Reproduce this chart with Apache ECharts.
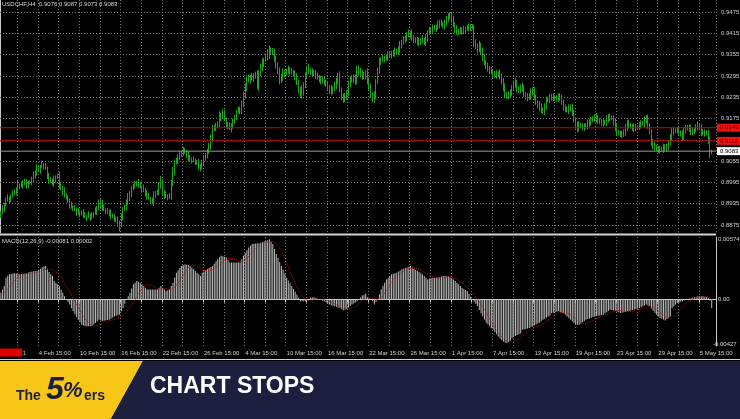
<!DOCTYPE html>
<html><head><meta charset="utf-8">
<script src="https://cdn.jsdelivr.net/npm/echarts@6/dist/echarts.min.js"></script>
<style>html,body{margin:0;padding:0;background:#000;}#c{width:740px;height:419px;}</style>
</head><body><div id="c"></div>
<script>
// ---- data (prices in pips, 0.0001) ----
const firstOpen = 8903;
const closes = [
8909,8921,8934,8945,8950,8947,8958,8963,8968,8975,
8988,8984,8990,8996,8993,8987,8995,8993,9003,9010,
9022,9036,9031,9040,9044,9041,9036,9012,9005,8998,
8993,9002,9009,9016,8988,8979,8968,8960,8951,8944,
8931,8927,8923,8918,8912,8909,8906,8910,8903,8900,
8898,8902,8897,8903,8908,8915,8923,8931,8940,8923,
8918,8915,8912,8907,8903,8898,8893,8889,8883,8875,
8896,8917,8926,8937,8951,8965,8977,8988,8990,8993,
8988,8982,8979,8974,8965,8954,8950,8946,8940,8960,
8963,8968,8984,8995,8968,8960,8954,8957,8954,8990,
9025,9050,9058,9066,9072,9080,9086,9079,9072,9066,
9061,9058,9055,9052,9050,9043,9036,9050,9062,9072,
9081,9095,9120,9143,9150,9155,9157,9179,9183,9190,
9172,9157,9152,9148,9156,9165,9178,9193,9197,9200,
9215,9236,9262,9289,9285,9292,9288,9295,9297,9264,
9303,9318,9334,9340,9347,9354,9370,9366,9360,9343,
9326,9305,9283,9295,9306,9302,9309,9312,9308,9305,
9303,9290,9275,9258,9241,9255,9269,9295,9317,9310,
9306,9306,9300,9297,9292,9283,9286,9281,9278,9270,
9261,9256,9250,9260,9269,9282,9292,9255,9240,9227,
9237,9247,9275,9282,9289,9285,9278,9317,9308,9300,
9292,9299,9306,9283,9262,9243,9227,9241,9278,9312,
9334,9340,9345,9346,9348,9352,9356,9360,9358,9361,
9362,9372,9382,9389,9396,9403,9410,9413,9416,9402,
9397,9393,9390,9392,9394,9396,9390,9403,9416,9421,
9426,9430,9431,9433,9439,9444,9441,9438,9445,9452,
9462,9468,9453,9438,9428,9419,9421,9419,9424,9426,
9428,9430,9431,9432,9433,9388,9378,9368,9382,9365,
9348,9334,9320,9315,9310,9306,9301,9297,9300,9303,
9293,9283,9262,9241,9238,9241,9251,9261,9270,9278,
9255,9258,9261,9264,9241,9237,9233,9240,9248,9255,
9237,9219,9212,9207,9200,9193,9210,9227,9230,9233,
9236,9234,9231,9233,9235,9236,9220,9205,9202,9199,
9203,9207,9193,9170,9155,9148,9157,9154,9150,9151,
9156,9160,9165,9170,9175,9179,9175,9171,9166,9162,
9163,9165,9172,9179,9177,9176,9163,9151,9137,9133,
9131,9129,9138,9148,9162,9157,9152,9148,9150,9149,
9151,9157,9160,9162,9169,9176,9156,9137,9106,9100,
9095,9090,9086,9088,9090,9092,9094,9092,9108,9123,
9137,9140,9141,9143,9136,9130,9123,9143,9147,9151,
9145,9140,9137,9145,9151,9157,9147,9137,9135,9134,
9136,9112,9076,9083];
// wick lengths in units of 0.0002 (2 pips)
const wickUnit = 2;
const upWick = [
3,5,2,4,6,3,2,5,4,3,7,2,4,3,5,6,2,3,4,8,
3,5,4,2,6,3,4,2,5,3,4,6,3,2,5,4,3,7,2,4,
3,5,2,4,3,6,2,3,5,4,2,6,3,4,2,5,3,8,4,3,
5,2,4,3,6,2,4,3,5,2,6,4,3,5,7,3,4,2,5,3,
6,4,2,5,3,4,6,2,3,5,4,3,6,9,4,3,5,2,4,6,
7,5,3,4,6,2,5,3,4,6,3,2,5,4,3,6,2,4,5,3,
4,6,5,7,3,4,5,8,4,6,5,3,4,6,3,5,4,3,6,4,
5,7,6,4,5,3,6,4,5,7,4,6,5,3,6,8,5,3,4,6,
5,4,7,3,5,4,3,6,4,5,3,4,6,5,3,7,4,5,3,6,
4,5,3,6,4,3,5,4,6,3,5,4,7,3,5,4,6,8,4,3,
5,4,3,6,4,5,7,3,4,5,6,4,3,5,4,6,3,5,4,3,
6,4,5,3,4,6,5,3,4,7,5,3,6,4,5,3,4,6,3,5,
4,3,6,5,4,7,3,5,4,6,3,5,4,3,6,4,5,3,4,6,
5,3,4,6,4,5,3,6,4,5,3,4,6,5,4,3,5,4,6,3,
5,4,3,6,4,5,3,4,6,3,5,4,3,6,4,5,3,4,6,5,
3,4,5,6,3,4,5,3,6,4,5,3,4,6,5,3,4,5,3,6,
4,5,3,4,6,5,3,4,5,3,6,4,5,3,4,6,5,3,4,5,
3,6,4,5,3,4,6,5,3,4,5,3,6,4,5,3,4,6,5,3,
4,5,3,6,4,5,3,4,6,5,3,4,5,3,6,4,5,3,4,6,
5,3,4,5,3,6,4,5,3,4,6,5,3,4,5,3,6,4,5,3,
4,6,5,3,4,5,3,6,4,5,3,4,6,2];
const dnWick = [
4,2,5,3,2,6,4,3,2,5,3,4,2,6,3,5,4,2,3,5,
2,4,3,6,2,5,3,4,7,2,3,5,4,2,6,3,5,4,2,3,
5,3,4,2,6,3,5,2,4,3,6,2,5,3,4,2,6,3,5,4,
2,5,3,4,6,2,5,3,7,9,3,4,2,5,3,4,6,2,5,3,
4,2,6,3,5,4,2,5,3,6,4,2,5,3,4,6,2,5,3,4,
3,5,2,6,4,3,5,2,4,6,3,5,2,4,3,6,5,2,4,3,
5,3,4,6,2,5,4,3,6,4,2,5,4,3,6,5,3,4,2,5,
6,4,3,5,4,6,3,5,4,3,6,4,5,7,3,4,6,5,3,4,
5,3,6,4,7,5,3,4,6,3,5,4,3,6,4,5,8,4,3,5,
4,6,3,5,4,3,6,4,5,3,4,6,5,3,4,6,5,3,7,4,
3,5,4,6,3,5,4,3,6,5,4,3,7,6,4,5,3,4,6,3,
5,4,3,6,4,5,3,6,4,5,3,4,6,5,3,4,5,3,6,4,
5,3,4,6,5,3,4,5,6,3,4,5,3,6,4,5,3,4,6,5,
3,4,5,3,6,4,5,3,4,6,5,3,4,5,3,6,4,5,3,4,
6,5,3,4,5,3,6,4,5,3,4,6,5,3,4,5,3,6,4,5,
3,4,6,5,3,4,5,3,6,4,5,3,4,6,5,3,4,5,3,6,
4,5,3,4,6,5,3,4,5,3,6,4,5,3,4,6,5,3,4,5,
3,6,4,5,3,4,6,5,3,4,5,3,6,4,5,3,4,6,5,3,
4,5,3,6,4,5,3,4,6,5,3,4,5,3,6,4,5,3,4,6,
5,3,4,5,3,6,4,5,3,4,6,5,3,4,5,3,6,4,5,3,
4,6,5,3,4,5,3,6,4,5,3,4,6,1];
// MACD main and signal, units of 0.00001
const macd = [
64,95,128,207,225,240,243,246,249,246,
243,240,241,243,245,250,256,262,265,268,
270,271,282,293,303,312,319,287,262,240,
223,175,160,145,128,95,64,32,0,-24,
-48,-80,-112,-140,-166,-191,-215,-239,-245,-250,
-255,-253,-252,-250,-236,-223,-207,-191,-198,-205,
-200,-197,-194,-191,-181,-170,-160,-154,-149,-144,
-112,-80,-40,0,32,64,104,144,160,175,
168,160,144,128,112,96,96,96,96,96,
96,96,112,128,112,96,80,88,96,128,
160,208,255,276,298,319,327,335,330,325,
319,303,287,271,255,239,223,255,266,276,
287,298,309,319,340,362,383,400,415,410,
405,399,375,351,351,351,351,351,351,351,
383,415,441,468,494,510,526,528,530,531,
533,538,544,549,555,562,568,547,526,478,
431,394,357,319,282,244,207,181,154,128,
101,75,48,16,-16,-16,-16,-16,-5,5,
16,19,22,15,8,0,-5,-11,-16,-27,
-37,-48,-53,-59,-64,-69,-75,-80,-91,-102,
-96,-90,-76,-62,-48,-37,-27,-16,2,20,
38,46,54,22,9,-3,-16,-48,-24,0,
48,96,128,159,191,207,224,240,245,250,
255,266,276,287,292,298,303,311,319,303,
292,282,271,261,250,240,224,207,191,196,
202,207,207,207,207,212,218,223,223,223,
223,212,202,191,175,160,144,128,112,101,
91,80,53,27,0,-21,-43,-64,-100,-130,
-160,-190,-220,-237,-254,-270,-287,-308,-328,-349,
-370,-385,-400,-408,-415,-403,-390,-370,-351,-343,
-336,-328,-320,-287,-283,-278,-274,-270,-262,-255,
-246,-237,-228,-220,-205,-191,-181,-171,-160,-150,
-128,-124,-120,-116,-112,-118,-124,-130,-145,-161,
-176,-191,-207,-223,-239,-239,-239,-227,-215,-203,
-191,-185,-179,-172,-166,-160,-157,-154,-150,-147,
-144,-132,-120,-108,-96,-99,-102,-105,-113,-120,
-128,-124,-120,-116,-112,-108,-104,-100,-95,-90,
-85,-80,-72,-64,-56,-48,-56,-64,-85,-107,
-128,-144,-160,-175,-183,-190,-198,-185,-173,-160,
-80,-64,-48,-32,-27,-21,-16,-9,-2,6,
9,13,16,21,27,32,32,32,32,27,
21,16,-10,-81];
const signal = [
40,50,65,85,105,125,145,165,185,205,
222,235,242,244,245,245,246,248,251,254,
257,260,264,269,275,281,288,290,290,288,
284,274,262,248,230,208,183,155,126,97,
68,40,11,-18,-48,-76,-103,-130,-157,-180,
-201,-219,-233,-243,-249,-250,-247,-241,-233,-225,
-218,-210,-204,-199,-196,-193,-189,-184,-178,-172,
-164,-152,-137,-119,-98,-75,-51,-26,0,27,
54,80,103,122,136,145,147,141,131,119,
110,104,101,101,103,103,101,99,98,100,
107,119,137,158,182,207,232,258,282,303,
318,324,324,320,313,304,293,284,277,272,
270,271,276,284,294,306,318,331,346,361,
373,382,388,391,389,385,380,374,367,362,
363,369,379,392,408,426,445,465,484,502,
515,523,529,534,538,542,546,547,546,541,
530,513,491,464,432,396,357,316,274,232,
191,153,118,87,59,34,13,-2,-9,-9,
-6,-3,0,3,4,5,4,2,-1,-6,
-12,-18,-25,-33,-41,-50,-58,-66,-74,-83,
-88,-90,-88,-84,-78,-71,-62,-51,-38,-23,
-9,4,14,18,18,16,13,8,3,0,
8,22,40,62,87,113,140,165,188,208,
225,240,253,264,274,282,289,294,298,299,
298,295,290,284,277,269,260,250,240,231,
223,216,211,208,206,205,206,208,211,213,
215,215,213,209,202,193,182,170,157,143,
128,113,96,79,61,42,22,2,-20,-44,
-70,-98,-127,-156,-185,-213,-240,-266,-291,-315,
-336,-355,-372,-386,-396,-402,-404,-403,-399,-392,
-384,-374,-363,-350,-336,-322,-308,-296,-285,-276,
-267,-259,-251,-244,-236,-227,-217,-206,-195,-183,
-170,-158,-147,-138,-131,-126,-123,-122,-124,-128,
-135,-144,-155,-168,-182,-196,-209,-219,-225,-227,
-225,-221,-215,-208,-199,-190,-181,-172,-164,-158,
-153,-147,-141,-134,-126,-118,-111,-106,-103,-103,
-105,-108,-111,-114,-115,-115,-113,-110,-106,-102,
-98,-93,-88,-82,-76,-70,-66,-65,-67,-72,
-81,-93,-106,-121,-137,-152,-166,-176,-181,-182,
-172,-159,-142,-123,-104,-86,-68,-51,-36,-22,
-11,-3,4,10,15,20,24,27,29,29,
28,26,18,2];
const timeLabels = ['4 Feb 15:00','10 Feb 15:00','16 Feb 15:00','22 Feb 15:00','26 Feb 15:00',
  '4 Mar 15:00','10 Mar 15:00','16 Mar 15:00','22 Mar 15:00','26 Mar 15:00','1 Apr 15:00',
  '7 Apr 15:00','13 Apr 15:00','19 Apr 15:00','23 Apr 15:00','29 Apr 15:00','5 May 15:00'];
const firstLabelIndex = 22, labelStep = 24, gridStep = 12, emptySlots = 2;
const priceGrid = [0.9475,0.9415,0.9355,0.9295,0.9235,0.9175,0.9115,0.9055,0.8995,0.8935,0.8875];
const priceLabels = ['0.9475','0.9415','0.9355','0.9295','0.9235','0.9175','','0.9055','0.8995','0.8935','0.8875'];
const levelLines = [0.9149, 0.9112];
const levelLabels = ['0.9149', '0.9112'];
const bidPrice = 0.9083, bidLabel = '0.9083';
const macdTicks = [0.00574, 0, -0.00427];
const macdTickLabels = ['0.00574', '0.00', '-0.00427'];
const priceMin = 0.88525, priceMax = 0.95088, macdMin = -0.004401, macdMax = 0.005927;

// ---- build ----
const nBars = closes.length, N = nBars + emptySlots;
const cats = new Array(N).fill('');
timeLabels.forEach((t, k) => { cats[firstLabelIndex + k * labelStep] = t; });
const candles = closes.map((c, i) => {
  const o = i ? closes[i - 1] : firstOpen;
  const h = Math.max(o, c) + (upWick[i] ?? 3) * wickUnit, l = Math.min(o, c) - (dnWick[i] ?? 3) * wickUnit;
  return [o / 1e4, c / 1e4, l / 1e4, h / 1e4];
});
const FONT = 'Liberation Sans';
const FS = 6;
const GRIDC = '#7a7a7a';
const gridLine = (idx) => (idx - firstLabelIndex) % gridStep === 0;
const hLine = (value, text, lineColor, bg, fg, z) => ({
  type: 'line', xAxisIndex: 2, yAxisIndex: 0, z: z, silent: true, symbol: 'none',
  data: [[0, value], [1, value]],
  lineStyle: {color: lineColor, width: 1, type: 'solid'},
  endLabel: {show: true, formatter: text, distance: 1, color: fg, backgroundColor: bg,
    padding: [1, 4, 1, 3], fontSize: FS, fontFamily: FONT}
});
const chart = echarts.init(document.getElementById('c'), null, {renderer: 'canvas'});
chart.setOption({
  backgroundColor: '#000000',
  animation: false,
  grid: [
    {left: 0, right: 24, top: 0, height: 233},
    {left: 0, right: 24, top: 237, height: 109}
  ],
  xAxis: [
    {type: 'category', gridIndex: 0, data: cats, boundaryGap: true,
     axisLine: {show: false}, axisTick: {show: false}, axisLabel: {show: false},
     splitLine: {show: true, interval: gridLine, lineStyle: {color: GRIDC, type: [1, 2], width: 1}}},
    {type: 'category', gridIndex: 1, data: cats, boundaryGap: true,
     axisLine: {show: true, lineStyle: {color: '#c8c8c8', width: 1}},
     axisTick: {show: true, interval: gridLine, length: 3, lineStyle: {color: '#c8c8c8'}},
     axisLabel: {show: true, interval: (i, v) => v !== '', align: 'left', margin: 4,
       color: '#d0d0d0', fontSize: FS, fontFamily: FONT},
     splitLine: {show: true, interval: gridLine, lineStyle: {color: GRIDC, type: [1, 2], width: 1}}},
    {type: 'value', gridIndex: 0, min: 0, max: 1, show: false}
  ],
  yAxis: [
    {type: 'value', gridIndex: 0, position: 'right', min: priceMin, max: priceMax,
     axisLine: {show: true, lineStyle: {color: '#c8c8c8', width: 1}}, axisTick: {show: false},
     axisLabel: {show: false}, splitLine: {show: false}},
    {type: 'value', gridIndex: 1, position: 'right', min: macdMin, max: macdMax,
     axisLine: {show: true, lineStyle: {color: '#c8c8c8', width: 1}}, axisTick: {show: false},
     axisLabel: {show: false}, splitLine: {show: false}}
  ],
  series: [
    {type: 'line', xAxisIndex: 0, yAxisIndex: 0, data: [], z: 1, silent: true,
     markLine: {silent: true, symbol: 'none', animation: false, precision: 6, z: 1,
       lineStyle: {color: GRIDC, type: [1, 2], width: 1},
       label: {position: 'end', distance: 5, color: '#d0d0d0', fontSize: FS, fontFamily: FONT},
       data: priceGrid.map((v, k) => ({yAxis: v, label: {formatter: priceLabels[k]}}))}},
    {type: 'candlestick', xAxisIndex: 0, yAxisIndex: 0, data: candles, z: 3, barWidth: 1,
     itemStyle: {color: '#21a221', color0: '#21a221', borderColor: '#21a221', borderColor0: '#21a221', borderWidth: 1}},
    hLine(levelLines[0], levelLabels[0], '#d00000', '#f01010', '#6a0000', 5),
    hLine(levelLines[1], levelLabels[1], '#d00000', '#f01010', '#6a0000', 5),
    hLine(bidPrice, bidLabel, '#9a9a9a', '#ffffff', '#000000', 4),
    {type: 'bar', xAxisIndex: 1, yAxisIndex: 1, data: macd.map(v => v / 1e5), barWidth: 1, z: 2,
     itemStyle: {color: '#bdbdbd'}, silent: true},
    {type: 'line', xAxisIndex: 1, yAxisIndex: 1, data: signal.map(v => v / 1e5), z: 3, symbol: 'none',
     lineStyle: {color: '#b01515', type: 'dotted', width: 1}, silent: true,
     markLine: {silent: true, symbol: 'none', animation: false, precision: 6,
       lineStyle: {color: 'rgba(0,0,0,0)', width: 0},
       label: {position: 'end', distance: 2, color: '#d0d0d0', fontSize: FS, fontFamily: FONT},
       data: macdTicks.map((v, k) => ({yAxis: v,
         label: {formatter: macdTickLabels[k], distance: v < 0 ? -3 : 2}}))}}
  ],
  graphic: [
    {type: 'text', x: 2, y: 1, z: 50, style: {text: 'USDCHF,H4  0.9076 0.9087 0.9073 0.9083', fill: '#d8d8d8', fontSize: 6, fontFamily: FONT}},
    {type: 'line', z: 50, shape: {x1: 0, y1: 234.5, x2: 716, y2: 234.5}, style: {stroke: '#d4d4d4', lineWidth: 2}},
    {type: 'text', x: 2, y: 238, z: 50, style: {text: 'MACD(12,26,9) -0.00081 0.00002', fill: '#d8d8d8', fontSize: 6, fontFamily: FONT}},
    {type: 'text', x: 26, y: 353, z: 50, style: {text: '1 Feb 2021', fill: '#d0d0d0', fontSize: FS, fontFamily: FONT, align: 'right', verticalAlign: 'middle'}},
    {type: 'rect', z: 51, shape: {x: 0, y: 348.5, width: 22, height: 8}, style: {fill: '#e00000'}},
    {type: 'line', z: 50, shape: {x1: 0, y1: 359.5, x2: 740, y2: 359.5}, style: {stroke: '#cfcfcf', lineWidth: 1}},
    {type: 'polygon', z: 60, shape: {points: [[0, 361], [143, 361], [111, 419], [0, 419]]}, style: {fill: '#f7c617'}},
    {type: 'polygon', z: 60, shape: {points: [[143, 361], [740, 361], [740, 419], [111, 419]]}, style: {fill: '#1c1f3d'}},
    {type: 'text', x: 16, y: 396, z: 61, style: {text: 'The', fill: '#1c1f3d', font: 'bold 14px Liberation Sans', verticalAlign: 'middle'}},
    {type: 'text', x: 46, y: 390, z: 61, style: {text: '5', fill: '#1c1f3d', font: 'italic bold 32px Liberation Sans', verticalAlign: 'middle'}},
    {type: 'text', x: 63, y: 391, z: 61, style: {text: '%', fill: '#1c1f3d', font: 'italic bold 22px Liberation Sans', verticalAlign: 'middle'}},
    {type: 'text', x: 84, y: 396, z: 61, style: {text: 'ers', fill: '#1c1f3d', font: 'bold 14px Liberation Sans', verticalAlign: 'middle'}},
    {type: 'text', x: 150, y: 387, z: 61, style: {text: 'CHART STOPS', fill: '#ffffff', font: 'bold 23px Liberation Sans', verticalAlign: 'middle'}}
  ]
});
</script></body></html>
